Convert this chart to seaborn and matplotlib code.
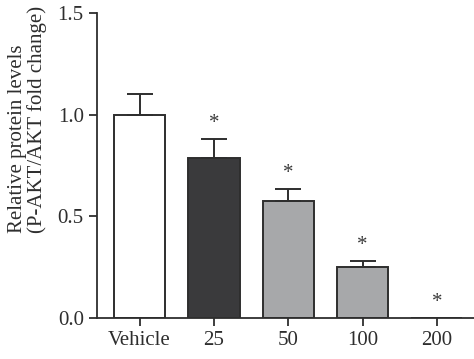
import matplotlib
matplotlib.use("Agg")
import matplotlib.pyplot as plt
import seaborn as sns
import pandas as pd

categories = ["Vehicle", "25", "50", "100", "200"]
values = [1.00, 0.788, 0.576, 0.251, 0.0]
errors = [0.10, 0.092, 0.056, 0.030, 0.0]
significant = [False, True, True, True, True]
colors = ["#ffffff", "#3a3a3c", "#a7a8aa", "#a7a8aa", "#a7a8aa"]
y_ticks = [0.0, 0.5, 1.0, 1.5]
y_label = "Relative protein levels\n(P-AKT/AKT fold change)"

sns.set_style("ticks")
plt.rcParams["font.family"] = ["Liberation Serif", "DejaVu Serif"]

df = pd.DataFrame({"group": categories, "value": values})

fig = plt.figure(figsize=(4.74, 3.59), dpi=100)
ax = fig.add_axes([0.2046, 0.1142, 0.7954, 0.8496])

sns.barplot(data=df, x="group", y="value", hue="group", palette=colors,
            order=categories, errorbar=None, width=0.69, legend=False,
            edgecolor="#2e2e2e", linewidth=1.4, ax=ax)

for i, (v, e) in enumerate(zip(values, errors)):
    if e > 0:
        ax.errorbar(i, v, yerr=[[0], [e]], fmt="none", ecolor="#2e2e2e",
                    elinewidth=1.4, capsize=9.5, capthick=1.4, zorder=1)
    if significant[i]:
        ax.text(i, v + e + 0.03, "*", ha="center", va="bottom",
                fontsize=15, color="#3a3a3a")

ax.set_xlim(-0.574, 4.5)
ax.set_ylim(0, 1.5)
ax.set_yticks(y_ticks)
ax.set_yticklabels([f"{t:.1f}" for t in y_ticks])
ax.set_xlabel("")
lab = ax.set_ylabel(y_label, fontsize=15, color="#2e2e2e", linespacing=1.0,
                    ha="left", multialignment="left")
ax.yaxis.set_label_coords(-0.133, 0.28)
ax.tick_params(axis="both", direction="out", length=6, width=1.3,
               color="#2e2e2e", labelsize=15, labelcolor="#2e2e2e")
ax.spines["top"].set_visible(False)
ax.spines["right"].set_visible(False)
for s in ["left", "bottom"]:
    ax.spines[s].set_linewidth(1.3)
    ax.spines[s].set_color("#2e2e2e")

fig.savefig("out.png", dpi=100)
